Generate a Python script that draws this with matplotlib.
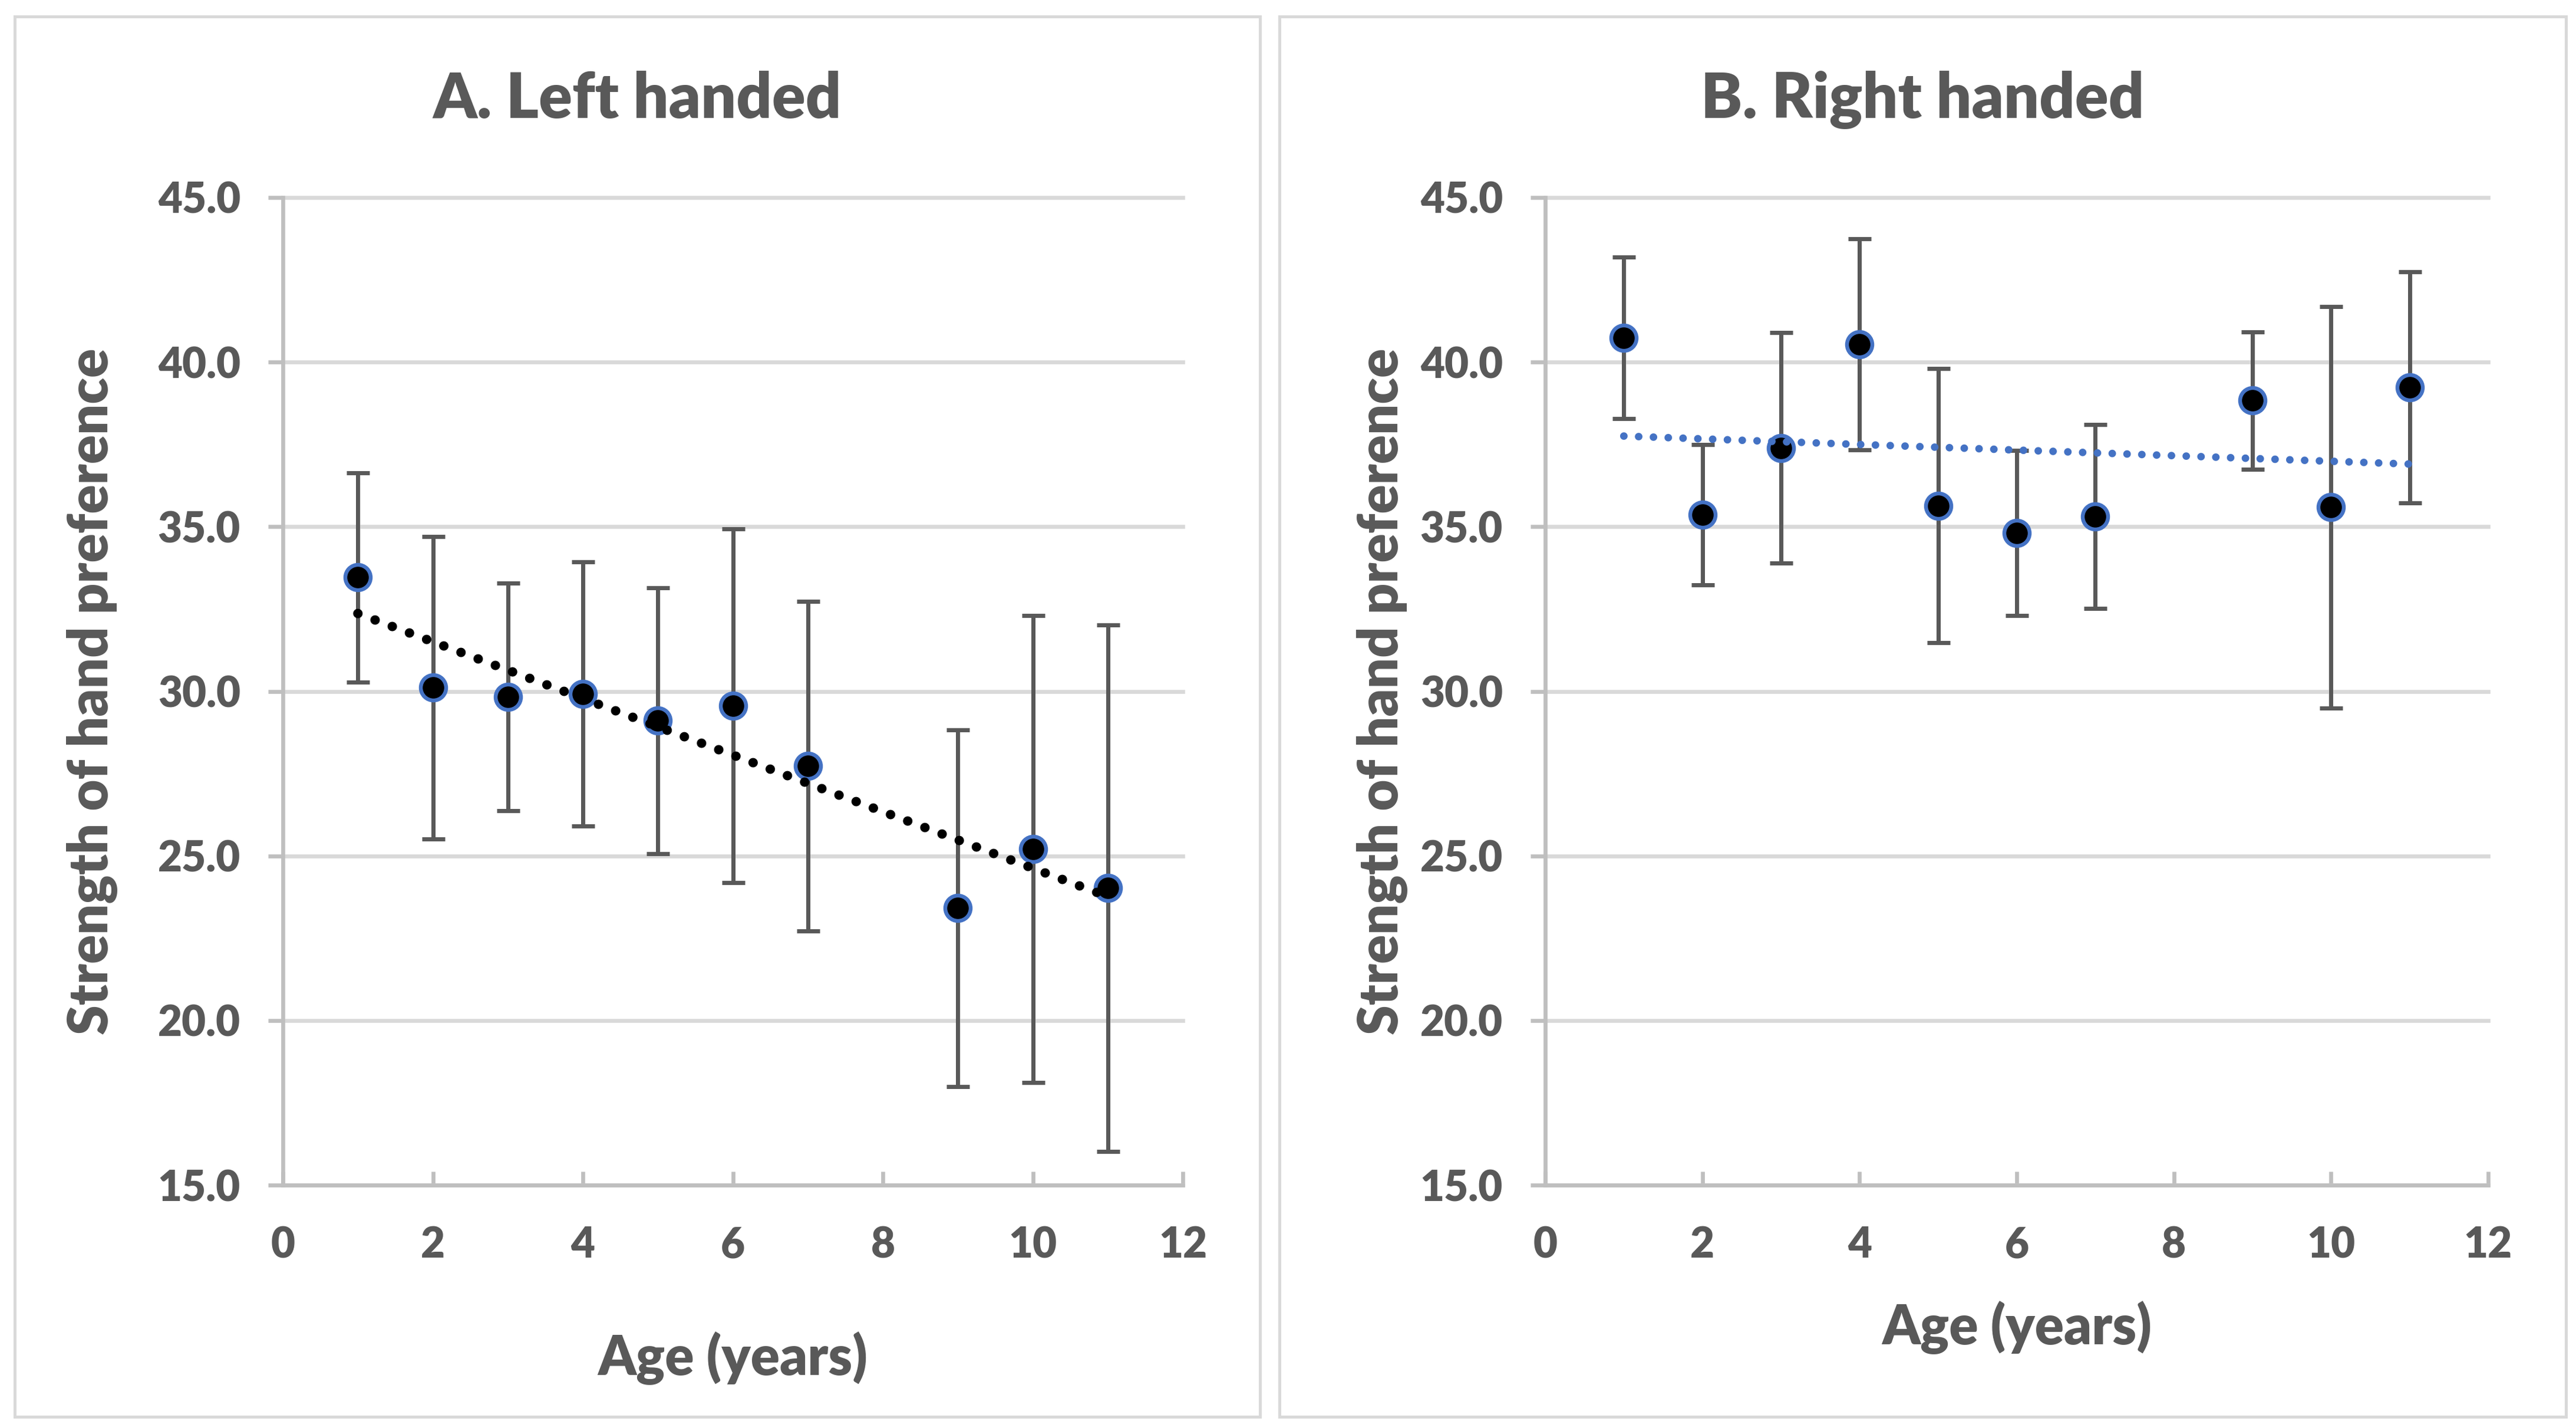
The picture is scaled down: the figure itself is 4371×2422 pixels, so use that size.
#!/usr/bin/env python3
"""Strength of hand preference by age, left vs right handed (two Excel-style panels)."""
import numpy as np
import matplotlib
matplotlib.use("Agg")
import matplotlib.pyplot as plt
from matplotlib.patches import Rectangle
from matplotlib.ticker import FormatStrFormatter

# data
ages = [1, 2, 3, 4, 5, 6, 7, 9, 10, 11]

left_mean = [33.46, 30.11, 29.83, 29.92, 29.11, 29.56, 27.73, 23.41, 25.21, 24.02]
left_err = [3.18, 4.60, 3.46, 4.01, 4.04, 5.38, 5.01, 5.41, 7.09, 8.00]

right_mean = [40.74, 35.36, 37.39, 40.54, 35.64, 34.81, 35.31, 38.83, 35.59, 39.24]
right_err = [2.45, 2.13, 3.50, 3.20, 4.17, 2.50, 2.80, 2.08, 6.10, 3.51]

titles = ["A. Left handed", "B. Right handed"]
xlabel = "Age (years)"
ylabel = "Strength of hand preference"
x_ticks = [0, 2, 4, 6, 8, 10, 12]
y_ticks = [15, 20, 25, 30, 35, 40, 45]

W, H, DPI = 4371, 2422, 100
TXT = "#595959"
GRID = "#d9d9d9"
AXIS = "#bfbfbf"
BLUE = "#4472c4"
WEIGHT = "heavy"


def px(v):
    """pixels -> points at this dpi"""
    return v * 72.0 / DPI


plt.rcParams["font.family"] = ["Lato", "DejaVu Sans"]
plt.rcParams["font.weight"] = WEIGHT

fig = plt.figure(figsize=(W / DPI, H / DPI), dpi=DPI)

# panel frames (pixel boxes: left, top, right, bottom)
frames = [(25, 28, 2138, 2403), (2171, 28, 4354, 2403)]
for l, t, r, b in frames:
    fig.add_artist(Rectangle((l / W, 1 - b / H), (r - l) / W, (b - t) / H,
                             transform=fig.transFigure, fill=False,
                             ec=GRID, lw=px(5)))

# axes boxes in pixels (left, right); shared top/bottom
ax_px = [(480, 2007), (2622, 4222)]
ax_top, ax_bot = 335, 2010


def draw_panel(ax, mean, err, trend_color, dot_px, gap_px, ylab_px, xlab_px):
    ax.set_xlim(0, 12)
    ax.set_ylim(15, 45)

    ax.errorbar(ages, mean, yerr=err, fmt="none", ecolor=TXT,
                elinewidth=px(7), capsize=px(19.5), capthick=px(7), zorder=3)
    ax.plot(ages, mean, "o", ms=px(43), mfc="black", mec=BLUE,
            mew=px(6.5), zorder=4)

    # linear trendline through the means
    coef = np.polyfit(ages, mean, 1)
    xs = np.array([ages[0], ages[-1]], dtype=float)
    ax.plot(xs, np.polyval(coef, xs), color=trend_color, lw=px(dot_px),
            linestyle=(0, (0.01, gap_px / dot_px)), dash_capstyle="round",
            zorder=5)

    for side in ("top", "right"):
        ax.spines[side].set_visible(False)
    for side in ("left", "bottom"):
        ax.spines[side].set_color(AXIS)
        ax.spines[side].set_linewidth(px(6.7))

    ax.set_xticks(x_ticks)
    ax.set_yticks(y_ticks)
    ax.yaxis.set_major_formatter(FormatStrFormatter("%.1f"))
    ax.yaxis.grid(True, color=GRID, lw=px(6.7))
    for gl in ax.yaxis.get_gridlines():
        gl.set_clip_on(False)
    ax.set_axisbelow(True)

    ax.tick_params(axis="y", direction="out", length=px(25), width=px(6.7),
                   color=AXIS, pad=px(47), labelsize=51, labelcolor=TXT)
    ax.tick_params(axis="x", direction="in", length=px(23), width=px(6.7),
                   color=AXIS, pad=px(69), labelsize=51, labelcolor=TXT)

    l, r = ax.get_position().x0 * W, ax.get_position().x1 * W
    ax.set_ylabel(ylabel, fontsize=66, color=TXT, fontweight=WEIGHT)
    ax.yaxis.label.set_va("baseline")
    ax.yaxis.set_label_coords((ylab_px - l) / (r - l), 0.5)

    ax.set_xlabel(xlabel, fontsize=66, color=TXT, fontweight=WEIGHT)
    ax.xaxis.label.set_va("baseline")
    ax.xaxis.set_label_coords(0.5, -(xlab_px - ax_bot) / (ax_bot - ax_top))


panels = [
    (left_mean, left_err, "black", 16, 31, 183, 2332),
    (right_mean, right_err, BLUE, 12.8, 25, 2372, 2280),
]
for i, (mean, err, tc, dot, gap, ylab, xlab) in enumerate(panels):
    l, r = ax_px[i]
    ax = fig.add_axes([l / W, 1 - ax_bot / H, (r - l) / W, (ax_bot - ax_top) / H])
    draw_panel(ax, mean, err, tc, dot, gap, ylab, xlab)
    fl, _, fr, _ = frames[i]
    fig.text((fl + fr) / 2 / W, 1 - 200 / H, titles[i], ha="center",
             va="baseline", fontsize=76, color=TXT, fontweight=WEIGHT)

fig.savefig("out.png", dpi=DPI, facecolor="white")
